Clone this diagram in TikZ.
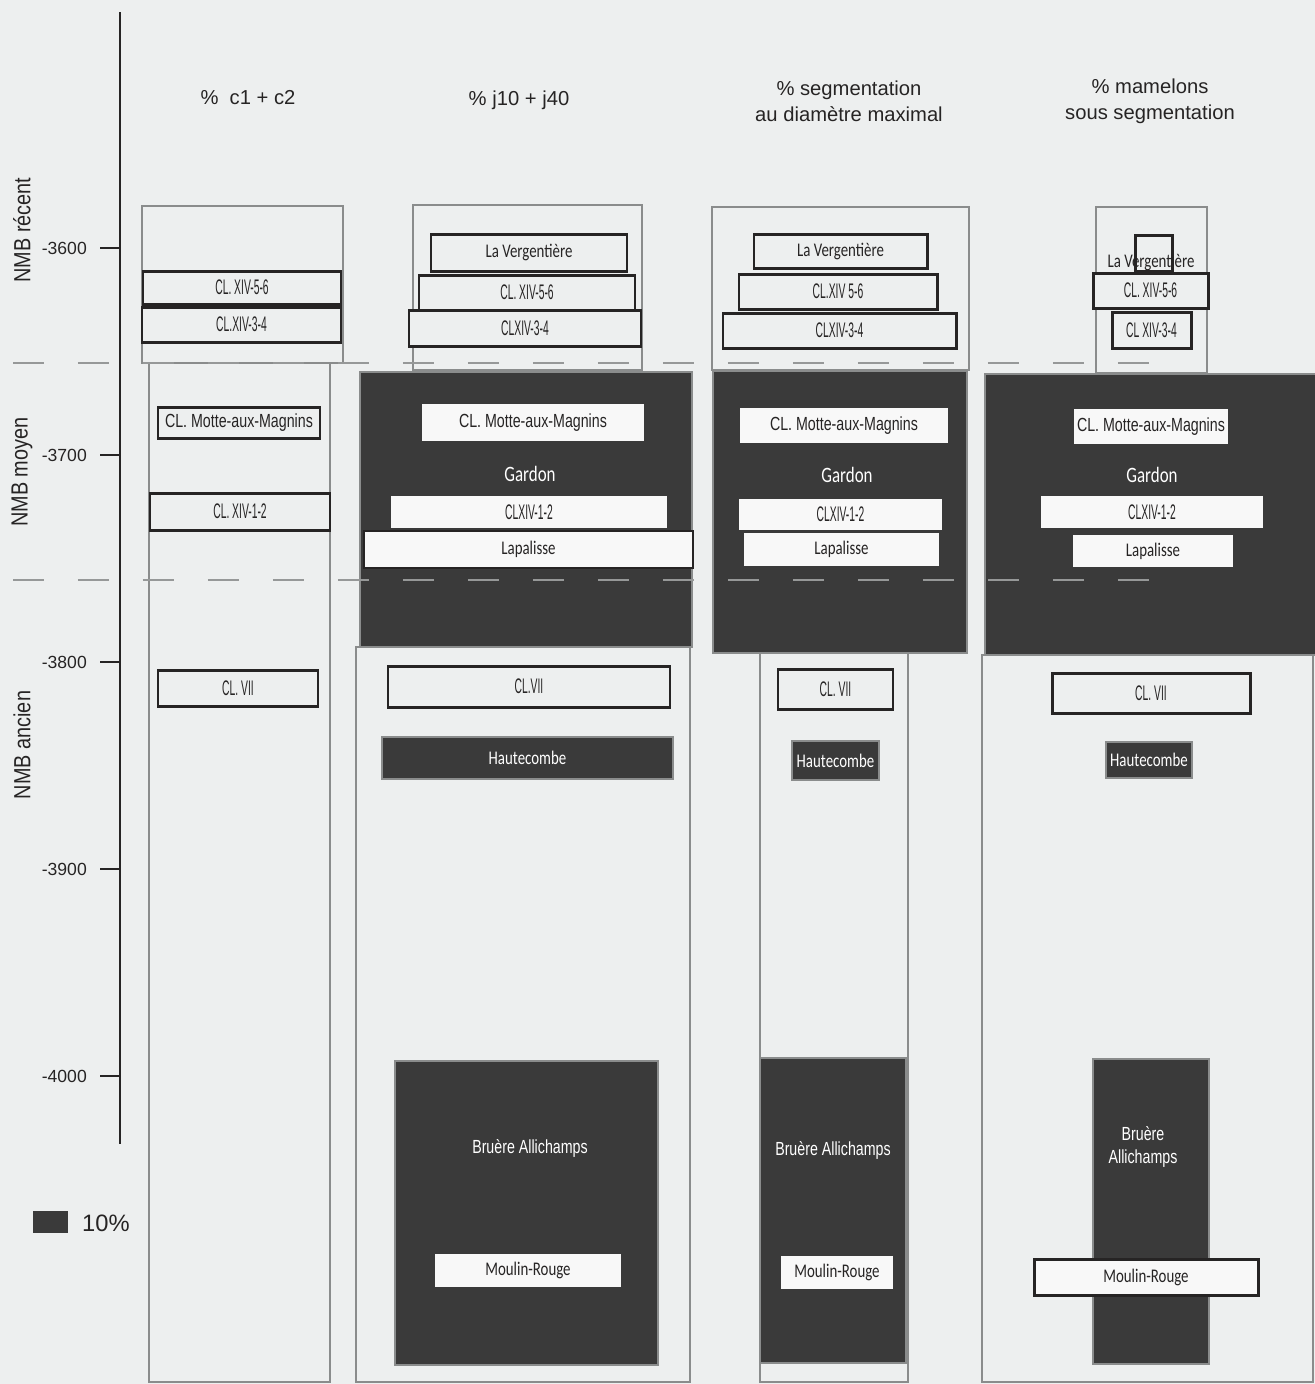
\documentclass[tikz,border=0pt]{standalone}
\usepackage{fontspec}
\setmainfont{Liberation Sans}
\newfontfamily\narrowfont[FakeStretch=0.49]{Liberation Sans}
\newfontfamily\semifont[FakeStretch=0.75]{Liberation Sans}
\newfontfamily\nmbfont[FakeStretch=0.85]{Liberation Sans}
\newfontfamily\myriadfont[FakeStretch=0.77]{Carlito}
\usepackage{xcolor}
\usepackage{tikz}
\usetikzlibrary{positioning}

\definecolor{paper}{RGB}{237,239,239}
\definecolor{ink}{RGB}{38,36,36}
\definecolor{slab}{RGB}{58,58,58}
\definecolor{rim}{RGB}{138,140,140}
\definecolor{dashgray}{RGB}{150,152,152}
\definecolor{chalk}{RGB}{248,248,248}

\begin{document}
\begin{tikzpicture}[
  x={(0.02cm,0)}, y={(0,-0.02cm)},
  colbox/.style    = {draw=rim, line width=1.3pt, fill=paper},
  darkcol/.style   = {draw=rim, line width=1.6pt, fill=slab},
  labbox/.style    = {draw=ink, line width=1.7pt, fill=paper},
  thinbox/.style   = {draw=ink, line width=0.8pt, fill=chalk},
  whitebox/.style  = {fill=chalk},
  darkbox/.style   = {draw=rim, line width=1.2pt, fill=slab},
  cltext/.style    = {font=\narrowfont\fontsize{12}{14}\selectfont, text=ink},
  sitetext/.style  = {font=\myriadfont\fontsize{11}{13}\selectfont, text=ink},
  wsitetext/.style = {sitetext, text=white},
  gardon/.style    = {font=\myriadfont\fontsize{12.5}{14}\selectfont, text=white},
  mottetext/.style = {font=\semifont\fontsize{10.8}{13}\selectfont, text=ink},
  bruere/.style    = {mottetext, text=white, align=center},
  colhead/.style   = {font=\fontsize{11.5}{14.7}\selectfont, align=center, text=ink},
  ticklabel/.style = {font=\fontsize{10}{12}\selectfont, anchor=east, text=ink},
  periodlabel/.style = {font=\nmbfont\fontsize{13.3}{15}\selectfont, rotate=90, text=ink},
  axisline/.style  = {ink, line width=1.6pt},
  boundary/.style  = {dashgray, line width=1.4pt, dash pattern=on 0.62cm off 0.68cm}
]

\path[use as bounding box, fill=paper] (0,0) rectangle (1315,1384);

% ── Time axis ────────────────────────────────────────────────────────────────
\draw[axisline] (120,12) -- (120,1144);
\foreach \yr/\py in {3600/248, 3700/455, 3800/662, 3900/869, 4000/1076} {
  \draw[axisline] (100,\py) -- (120,\py);
  \node[ticklabel] (y\yr) at (93,\py) {-\yr};
}
\node[periodlabel] (recent) at (22,230) {NMB récent};
\node[periodlabel] (moyen)  at (22,472) {NMB moyen};
\node[periodlabel] (ancien) at (22,745) {NMB ancien};

% ── Column heads ─────────────────────────────────────────────────────────────
\node[colhead] (h1) at (248,98)  {\%\ \ c1 + c2};
\node[colhead] (h2) at (519,100) {\% j10 + j40};
\node[colhead] (h3) at (849,101) {\% segmentation\\au diamètre maximal};
\node[colhead] (h4) at (1150,101) {\% mamelons\\sous segmentation};

% ── Column frames ────────────────────────────────────────────────────────────
\draw[colbox]  (142,206) rectangle (343,363);
\draw[colbox]  (149,363) rectangle (330,1382);
\draw[colbox]  (413,205) rectangle (642,370);
\draw[colbox]  (356,647) rectangle (690,1382);
\draw[darkcol] (360,372) rectangle (692,647);
\draw[colbox]  (712,207) rectangle (969,370);
\draw[colbox]  (760,653) rectangle (908,1382);
\draw[darkcol] (713,371) rectangle (967,653);
\draw[colbox]  (1096,207) rectangle (1207,373);
\draw[colbox]  (982,655) rectangle (1313,1382);
\draw[darkcol] (985,374) rectangle (1320,655);

% ── Period limits ────────────────────────────────────────────────────────────
\draw[boundary] (13,363) -- (1152,363);
\draw[boundary] (13,580) -- (1152,580);

% ── Column 1 ─────────────────────────────────────────────────────────────────
\draw[labbox] (143,271) rectangle node[cltext] (a56) {CL. XIV-5-6} (341,304);
\draw[labbox] (142,307) rectangle node[cltext] (a34) {CL.XIV-3-4} (341,342);
\draw[labbox] (158,407) rectangle node[mottetext] (amotte) {CL. Motte-aux-Magnins} (320,438);
\draw[labbox] (150,493) rectangle node[cltext] (a12) {CL. XIV-1-2} (330,530);
\draw[labbox] (158,670) rectangle node[cltext] (a7) {CL. VII} (318,706);

% ── Column 2 ─────────────────────────────────────────────────────────────────
\draw[labbox] (431,234) rectangle node[sitetext] (bverg) {La Vergentière} (627,271);
\draw[labbox] (419,275) rectangle node[cltext] (b56) {CL. XIV-5-6} (635,310);
\draw[labbox] (409,310) rectangle node[cltext] (b34) {CLXIV-3-4} (641,346);
\fill[whitebox] (422,404) rectangle node[mottetext] (bmotte) {CL. Motte-aux-Magnins} (644,441);
\node[gardon] (bgardon) at (530,474) {Gardon};
\fill[whitebox] (391,496) rectangle node[cltext] (b12) {CLXIV-1-2} (667,528);
\draw[thinbox] (364,531) rectangle node[sitetext] (blap) {Lapalisse} (693,568);
\draw[labbox] (388,666) rectangle node[cltext] (b7) {CL.VII} (670,707);
\draw[darkbox] (382,737) rectangle node[wsitetext] (bhaute) {Hautecombe} (673,779);
\draw[darkbox] (395,1061) rectangle (658,1365);
\node[bruere] (bbrue) at (530,1148) {Bruère Allichamps};
\fill[whitebox] (435,1254) rectangle node[sitetext] (bmoul) {Moulin-Rouge} (621,1287);

% ── Column 3 ─────────────────────────────────────────────────────────────────
\draw[labbox] (754,234) rectangle node[sitetext] (cverg) {La Vergentière} (927,268);
\draw[labbox] (739,274) rectangle node[cltext] (c56) {CL.XIV 5-6} (937,309);
\draw[labbox] (723,313) rectangle node[cltext] (c34) {CLXIV-3-4} (956,348);
\fill[whitebox] (740,408) rectangle node[mottetext] (cmotte) {CL. Motte-aux-Magnins} (948,443);
\node[gardon] (cgardon) at (847,475) {Gardon};
\fill[whitebox] (739,499) rectangle node[cltext] (c12) {CLXIV-1-2} (942,530);
\fill[whitebox] (744,533) rectangle node[sitetext] (clap) {Lapalisse} (939,566);
\draw[labbox] (778,669) rectangle node[cltext] (c7) {CL. VII} (893,709);
\draw[darkbox] (792,741) rectangle node[wsitetext] (chaute) {Hautecombe} (879,780);
\draw[darkbox] (760,1058) rectangle (906,1363);
\node[bruere] (cbrue) at (833,1150) {Bruère Allichamps};
\fill[whitebox] (781,1256) rectangle node[sitetext] (cmoul) {Moulin-Rouge} (893,1289);

% ── Column 4 ─────────────────────────────────────────────────────────────────
\node[sitetext] (dverg) at (1151,262) {La Vergentière};
\draw[labbox, fill=none] (1135,235) rectangle (1172,271);
\draw[labbox] (1093,273) rectangle node[cltext] (d56) {CL. XIV-5-6} (1208,308);
\draw[labbox] (1112,312) rectangle node[cltext] (d34) {CL XIV-3-4} (1191,348);
\fill[whitebox] (1074,409) rectangle node[mottetext] (dmotte) {CL. Motte-aux-Magnins} (1228,444);
\node[gardon] (dgardon) at (1152,475) {Gardon};
\fill[whitebox] (1041,496) rectangle node[cltext] (d12) {CLXIV-1-2} (1263,528);
\fill[whitebox] (1073,535) rectangle node[sitetext] (dlap) {Lapalisse} (1233,567);
\draw[labbox] (1052,673) rectangle node[cltext] (d7) {CL. VII} (1250,713);
\draw[darkbox] (1106,742) rectangle node[wsitetext] (dhaute) {Hautecombe} (1192,778);
\draw[darkbox] (1093,1059) rectangle (1209,1364);
\node[bruere] (dbrue) at (1143,1147) {Bruère\\Allichamps};
\draw[labbox, fill=chalk] (1034,1259) rectangle node[sitetext] (dmoul) {Moulin-Rouge} (1258,1295);

% ── Legend ───────────────────────────────────────────────────────────────────
\fill[slab] (33,1211) rectangle (68,1233);
\node[font=\fontsize{13.5}{16}\selectfont, anchor=west, text=ink] (leg) at (76,1223) {10\%};

\end{tikzpicture}
\end{document}
